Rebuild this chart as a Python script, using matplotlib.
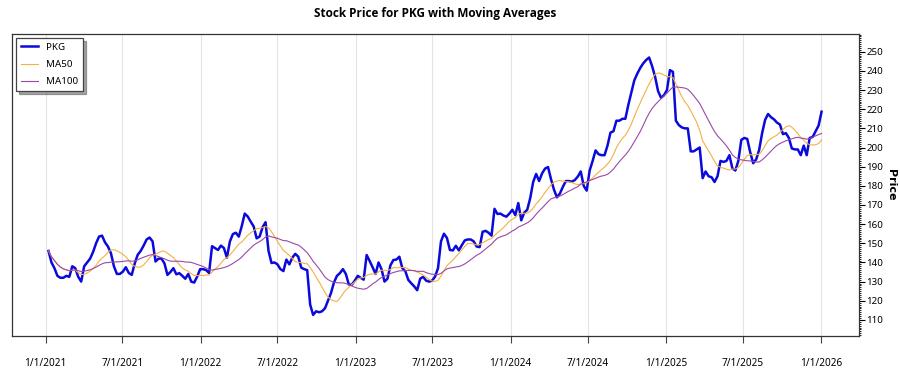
import numpy as np
import pandas as pd
import matplotlib
matplotlib.use("Agg")
import matplotlib.pyplot as plt
import matplotlib.dates as mdates
from matplotlib.ticker import MultipleLocator, FuncFormatter

plt.rcParams['font.family'] = ['Noto Sans', 'DejaVu Sans']

# weekly closes of PKG (Fridays, starting 2021-01-08)
start_date = '2021-01-08'
pkg = [
    146, 140, 137, 133, 132, 132, 133, 132.5, 138, 137,
    132.5, 130, 138, 140, 142, 145.5, 150, 153.5, 154, 150.5,
    148.3, 144.8, 138, 134, 134, 135.2, 137.5, 134.5, 133.5, 139.5,
    144, 146, 148.8, 152, 153, 151, 140.5, 142, 142, 139.5,
    133.5, 135, 137,
    133.8, 134.4, 133, 131.5, 134, 130, 129.5, 132.6, 136.5, 136.5,
    136, 134.5, 148.5, 147.5, 146.5, 148.8, 147.5, 142.5, 150.9, 154.8,
    155.5, 153.5, 159, 165.5, 164, 161.3, 158.8, 152.6, 153.5, 158.4,
    161, 146, 139.7, 140, 139, 136.5, 135.5, 141.5, 139, 142.5,
    144.5, 143, 137.3,
    136.5, 136, 118, 112.6, 114.5, 114, 114.5, 116.1, 120, 124,
    129.5, 133, 134.4, 136.5, 134, 128.5, 128.3, 130.5, 133, 132,
    131, 143.9, 140.8, 137.5, 134, 140, 136.5, 130, 131.5, 138.5,
    141.3, 141.5, 143, 137, 135.5, 130.9, 129.1, 127.5, 125.5, 131.5,
    132.5, 130.5,
    130, 130.5, 132.6, 137, 151, 155, 152.8, 146.5, 146.3, 148.7,
    146.3, 149, 151.5, 152, 152, 151, 148.3, 148, 156, 156.5,
    155.5, 154, 168, 165.3, 165.5, 164.5, 163.9, 165.5, 167.5, 164.7,
    171, 162, 166, 167.5, 173.5, 182, 186.2, 182.5, 186.5, 189,
    189.8, 183.5, 178, 174,
    176, 179.5, 182.5, 182.5, 182.2, 183, 184.8, 187.5, 180, 177.5,
    188, 193, 198.5, 196.5, 196, 196, 201, 207.8, 208.5, 214,
    214, 215, 215, 222.2, 228.5, 235, 238.5, 241.5, 243.9, 245.7,
    247, 242.5, 237, 229.5, 226, 227.3, 230, 240.4, 239.5, 214,
    211.7, 210.5, 210, 210,
    198, 198, 199, 200, 184, 187.5, 185, 184.5, 182, 185,
    193, 192.5, 193, 196, 189.1, 188, 193, 204, 205, 204.5,
    197.5, 191.8, 193.8, 198.7, 207.5, 214.4, 217.5, 215.8, 214.7, 213,
    212, 207, 207.5, 205, 199.5, 199, 199, 196, 201, 196,
    205, 205.5, 208.5, 211.5, 218.7,
]

dates = pd.date_range(start_date, periods=len(pkg), freq='7D')
s = pd.Series(pkg, index=dates)

# 50 / 100 trading days ~ 10 / 20 weeks
ma50 = s.rolling(10, min_periods=1).mean()
ma100 = s.rolling(20, min_periods=1).mean()

fig = plt.figure(figsize=(9, 3.75), dpi=100)
ax = fig.add_axes([0.0133, 0.104, 0.9411, 0.805])

ax.plot(s.index, s.values, color='#0a0adc', lw=1.8, label='PKG', zorder=3)
ax.plot(ma50.index, ma50.values, color='#f5b041', lw=0.8, label='MA50', zorder=4)
ax.plot(ma100.index, ma100.values, color='#9b48a8', lw=0.8, label='MA100', zorder=4)

ax.set_xlim(pd.Timestamp('2020-10-14'), pd.Timestamp('2026-03-31'))
ax.set_ylim(101.6, 259.2)

# x axis: Jan / Jul ticks, m/d/yyyy
ax.xaxis.set_major_locator(mdates.MonthLocator(bymonth=[1, 7]))
ax.xaxis.set_major_formatter(FuncFormatter(
    lambda v, p: (lambda d: f"{d.month}/{d.day}/{d.year}")(mdates.num2date(v))))
ax.tick_params(axis='x', length=5, pad=11, labelsize=7.2, color='#444444')
ax.grid(axis='x', color='#e4e4e4', lw=0.8)
ax.set_axisbelow(True)

# y axis on the right
ax.yaxis.tick_right()
ax.yaxis.set_label_position('right')
ax.yaxis.set_major_locator(MultipleLocator(10))
ax.yaxis.set_minor_locator(MultipleLocator(1))
ax.tick_params(axis='y', which='major', length=4, labelsize=7, pad=1.5)
ax.tick_params(axis='y', which='minor', length=1.5)
ax.set_ylabel('Price', fontsize=8, fontweight='bold', family='DejaVu Sans',
              rotation=270, va='center')
ax.yaxis.set_label_coords(1.0375, 0.5)

for sp in ax.spines.values():
    sp.set_color('#333333')
    sp.set_linewidth(0.9)

leg = ax.legend(loc='upper left', fontsize=7, fancybox=False, shadow=True,
                frameon=True, borderaxespad=0.4, handlelength=1.8,
                labelspacing=0.85, borderpad=0.5)
leg.get_frame().set_edgecolor('#444444')
leg.get_frame().set_linewidth(0.9)

fig.text(0.483, 0.963, 'Stock Price for PKG with Moving Averages',
         ha='center', va='center', fontsize=8.5, fontweight='bold',
         family='Open Sans')

fig.savefig('out.png', dpi=100)
